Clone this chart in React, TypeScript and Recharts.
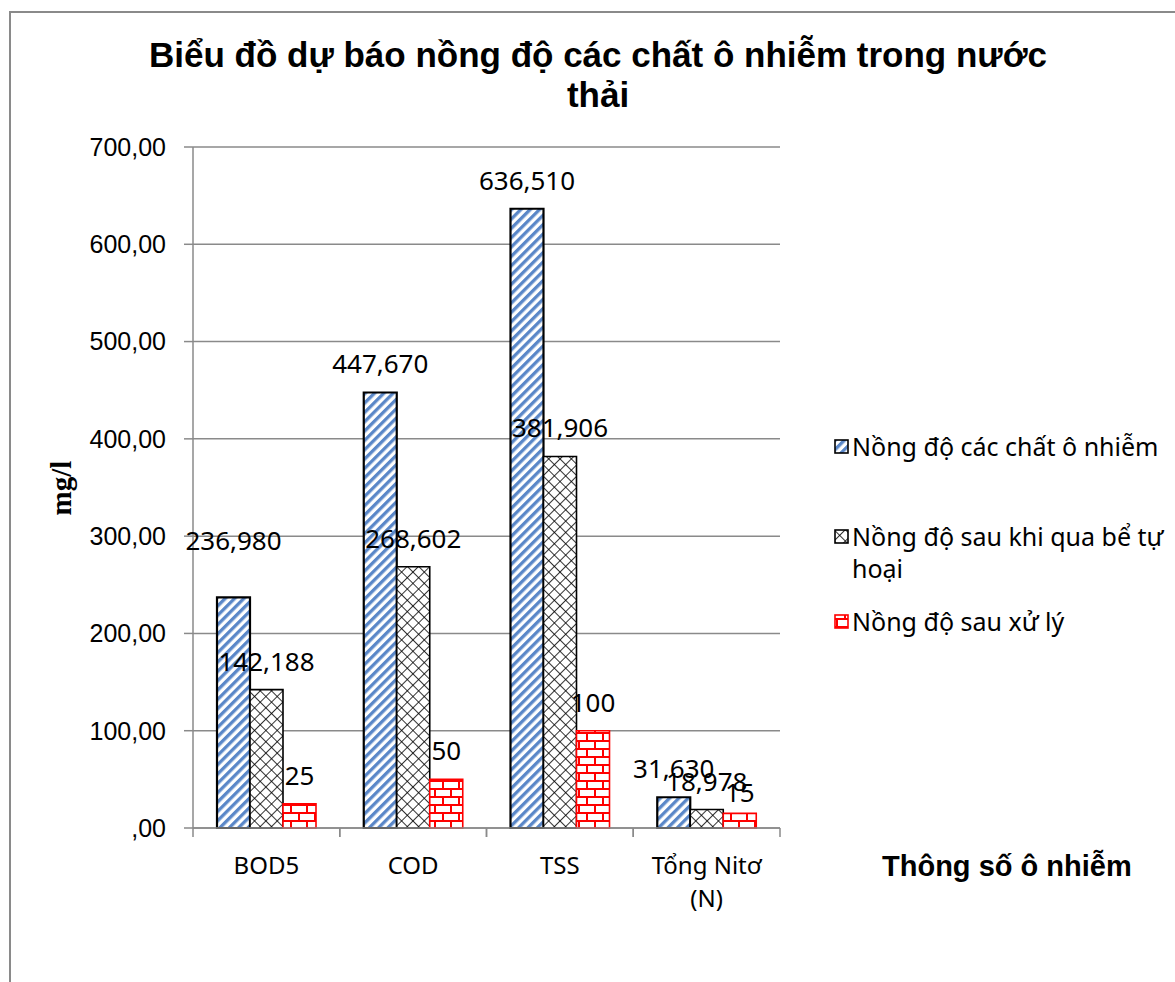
import React from "react";
import { BarChart, Bar, XAxis, YAxis, CartesianGrid, LabelList } from "recharts";

const categories = ["BOD5", "COD", "TSS", "Tổng Nitơ\n(N)"];
const rawValues = [236.98, 447.67, 636.51, 31.63];
const septicValues = [142.188, 268.602, 381.906, 18.978];
const treatedValues = [25, 50, 100, 15];
const yTicks = [0, 100, 200, 300, 400, 500, 600, 700];

const series = [
  { key: "raw", name: "Nồng độ các chất ô nhiễm", fill: "url(#stripes)", stroke: "#000000" },
  { key: "septic", name: "Nồng độ sau khi qua bể tự hoại", fill: "url(#cross)", stroke: "#000000" },
  { key: "treated", name: "Nồng độ sau xử lý", fill: "url(#bricks)", stroke: "#ff0000" },
];

// labels that were dragged in the original chart
const labelNudge: Record<string, number> = { "raw-0": -28, "treated-3": 8 };

const data = categories.map((c, i) => ({
  name: c,
  raw: rawValues[i],
  septic: septicValues[i],
  treated: treatedValues[i],
}));

const GRID = "#8a8a8a";
const CALIBRI = "'Noto Sans', 'Open Sans', sans-serif";
const ARIAL = "'Liberation Sans', Arial, sans-serif";

const fmtTick = (v: number) => (v === 0 ? ",00" : v.toFixed(2).replace(".", ","));
const fmtLabel = (v: any) => {
  const n = Number(v);
  return Number.isInteger(n) ? String(n) : n.toFixed(3).replace(".", ",");
};

// category label + tick marks on the band edges (Excel style)
const CategoryTick = ({ x, y, payload }: any) => {
  const lines = String(payload.value).split("\n");
  const half = payload.offset ?? 0;
  return (
    <g>
      <line x1={x - half} y1={y} x2={x - half} y2={y + 9} stroke={GRID} strokeWidth={1.5} />
      <line x1={x + half} y1={y} x2={x + half} y2={y + 9} stroke={GRID} strokeWidth={1.5} />
      <text x={x} y={y} textAnchor="middle" fontFamily={CALIBRI} fontSize={24} fill="#000">
        {lines.map((l, i) => (
          <tspan key={i} x={x} dy={i === 0 ? 46 : 33}>
            {l}
          </tspan>
        ))}
      </text>
    </g>
  );
};

const makeLabel = (seriesKey: string) => (props: any) => {
  const { x, y, width, value, index } = props;
  const shift = labelNudge[`${seriesKey}-${index}`] || 0;
  return (
    <text
      x={x + width / 2}
      y={y - 19 + shift}
      textAnchor="middle"
      fontFamily={CALIBRI}
      fontSize={26}
      fill="#000"
    >
      {fmtLabel(value)}
    </text>
  );
};

const Patterns = () => (
  <svg width={0} height={0} style={{ position: "absolute" }}>
    <defs>
      <pattern id="stripes" patternUnits="userSpaceOnUse" width={6.6} height={6.6} patternTransform="rotate(45)">
        <rect width={6.6} height={6.6} fill="#ffffff" />
        <rect x={0} y={0} width={3.3} height={6.6} fill="#5a87c8" />
      </pattern>
      <pattern id="cross" patternUnits="userSpaceOnUse" width={8} height={8} patternTransform="rotate(45)">
        <rect width={8} height={8} fill="#ffffff" />
        <line x1={0} y1={0} x2={8} y2={0} stroke="#000" strokeWidth={1.6} />
        <line x1={0} y1={0} x2={0} y2={8} stroke="#000" strokeWidth={1.6} />
      </pattern>
      <pattern id="bricks" patternUnits="userSpaceOnUse" width={16} height={16} x={0} y={4}>
        <rect width={16} height={16} fill="#ffffff" />
        <line x1={0} y1={1} x2={16} y2={1} stroke="#ff0000" strokeWidth={2} />
        <line x1={0} y1={9} x2={16} y2={9} stroke="#ff0000" strokeWidth={2} />
        <line x1={3} y1={1} x2={3} y2={9} stroke="#ff0000" strokeWidth={2} />
        <line x1={11} y1={9} x2={11} y2={16} stroke="#ff0000" strokeWidth={2} />
      </pattern>
    </defs>
  </svg>
);

export default function App() {
  return (
    <div style={{ position: "absolute", left: 0, top: 0, width: 1175, height: 982, background: "#fff", overflow: "hidden" }}>
      <Patterns />
      <div
        style={{
          position: "absolute",
          left: 9,
          top: 11,
          width: 1200,
          height: 1000,
          borderLeft: `2px solid ${GRID}`,
          borderTop: `2px solid ${GRID}`,
        }}
      />
      <div
        style={{
          position: "absolute",
          left: 48,
          top: 35,
          width: 1100,
          textAlign: "center",
          fontFamily: ARIAL,
          fontWeight: "bold",
          fontSize: 35,
          lineHeight: "40px",
        }}
      >
        Biểu đồ dự báo nồng độ các chất ô nhiễm trong nước
        <br />
        thải
      </div>
      <div
        style={{
          position: "absolute",
          left: 61,
          top: 488,
          transform: "translate(-50%, -50%) rotate(-90deg)",
          fontFamily: "'Liberation Serif', 'Times New Roman', serif",
          fontWeight: "bold",
          fontSize: 29,
          whiteSpace: "nowrap",
        }}
      >
        mg/l
      </div>
      <div
        style={{
          position: "absolute",
          left: 882,
          top: 848,
          fontFamily: ARIAL,
          fontWeight: "bold",
          fontSize: 29,
          lineHeight: "36px",
          whiteSpace: "nowrap",
        }}
      >
        Thông số ô nhiễm
      </div>
      <div style={{ position: "absolute", left: 834, top: 430, width: 330, fontFamily: CALIBRI, fontSize: 25 }}>
        {series.map((s, i) => (
          <div
            key={s.key}
            style={{ display: "flex", alignItems: "flex-start", lineHeight: "32px", marginBottom: i === 0 ? 58 : 21 }}
          >
            <svg width={16} height={16} style={{ marginTop: 9, marginRight: 2, flexShrink: 0 }}>
              <rect x={1} y={1} width={13} height={13} fill={s.fill} stroke={s.stroke} strokeWidth={1.6} />
            </svg>
            <span style={{ width: 315 }}>{s.name}</span>
          </div>
        ))}
      </div>
      <div style={{ position: "absolute", left: 0, top: 0 }}>
        <BarChart
          width={1175}
          height={982}
          data={data}
          margin={{ top: 147, right: 395, bottom: 73, left: 0 }}
          barCategoryGap={24}
          barGap={0}
        >
          <CartesianGrid stroke={GRID} strokeWidth={1.5} vertical={false} />
          <XAxis
            dataKey="name"
            interval={0}
            tickLine={false}
            tickSize={0}
            tickMargin={0}
            axisLine={{ stroke: GRID, strokeWidth: 1.5 }}
            tick={<CategoryTick />}
            height={81}
          />
          <YAxis
            domain={[0, 700]}
            ticks={yTicks}
            interval={0}
            width={193}
            tickFormatter={fmtTick}
            tickSize={9}
            tickMargin={18}
            axisLine={{ stroke: GRID, strokeWidth: 1.5 }}
            tickLine={{ stroke: GRID, strokeWidth: 1.5 }}
            tick={{ fill: "#000", fontSize: 25, fontFamily: ARIAL }}
          />
          {series.map((s) => (
            <Bar
              key={s.key}
              dataKey={s.key}
              name={s.name}
              fill={s.fill}
              stroke={s.stroke}
              strokeWidth={s.key === "raw" ? 2.2 : 1.6}
              isAnimationActive={false}
            >
              <LabelList dataKey={s.key} content={makeLabel(s.key)} />
            </Bar>
          ))}
        </BarChart>
      </div>
    </div>
  );
}
